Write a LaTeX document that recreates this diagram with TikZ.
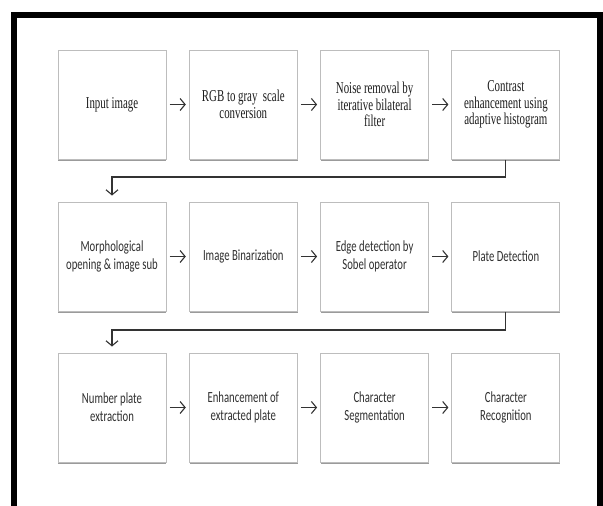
\documentclass[tikz,border=0pt]{standalone}
\usepackage{fontspec}
\newfontfamily\serifA[FakeStretch=0.655]{Liberation Serif}
\newfontfamily\sansA[FakeStretch=0.69]{Carlito}
\usetikzlibrary{arrows.meta,shadows}
\definecolor{boxline}{HTML}{BDBDBD}
\definecolor{txta}{HTML}{1C1C1C}
\definecolor{txtb}{HTML}{303030}
\definecolor{arr}{HTML}{333333}
\tikzset{
  stepbox/.style={draw=boxline, line width=1pt, fill=white,
    minimum width=108pt, minimum height=109pt, align=center,
    inner sep=2pt,
    drop shadow={shadow xshift=0.3pt, shadow yshift=-2.4pt, fill=black!60, opacity=0.65}},
  rowa/.style={stepbox, text=txta, font=\serifA\fontsize{16.6}{16.7}\selectfont},
  rowb/.style={stepbox, text=txtb, font=\sansA\fontsize{15.5}{18.3}\selectfont},
  flow/.style={draw=arr, line width=1.1pt, -{Straight Barb[length=5pt,width=12pt,line width=1.1pt]}},
}
\begin{document}
\begin{tikzpicture}[x=1pt,y=-1pt]
\useasboundingbox (0,0) rectangle (603,506);
\fill[white] (0,0) rectangle (603,506);
% outer frame
\draw[line width=6pt, line join=miter] (14,506) -- (14,15) -- (600,15) -- (600,506);
% row 1
\node[rowa] (a1) at (112,104.5) {Input image};
\node[rowa] (a2) at (243.3,104.5) {RGB to gray\ \ scale\\conversion};
\node[rowa] (a3) at (374.6,104.5) {Noise removal by\\iterative bilateral\\filter};
\node[rowa] (a4) at (505.9,104.5) {Contrast\\enhancement using\\adaptive histogram};
% row 2
\node[rowb] (b1) at (112,256.5) {Morphological\\opening \& image sub};
\node[rowb] (b2) at (243.3,256.5) {Image Binarization};
\node[rowb] (b3) at (374.6,256.5) {Edge detection by\\Sobel operator};
\node[rowb] (b4) at (505.9,256.5) {Plate Detection};
% row 3
\node[rowb] (c1) at (112,407.5) {Number plate\\extraction};
\node[rowb] (c2) at (243.3,407.5) {Enhancement of\\extracted plate};
\node[rowb] (c3) at (374.6,407.5) {Character\\Segmentation};
\node[rowb] (c4) at (505.9,407.5) {Character\\Recognition};
% horizontal arrows
\foreach \r in {a,b,c}{
  \draw[flow, shorten <=3pt, shorten >=3pt] (\r1) -- (\r2);
  \draw[flow, shorten <=3pt, shorten >=3pt] (\r2) -- (\r3);
  \draw[flow, shorten <=3pt, shorten >=3pt] (\r3) -- (\r4);
}
% row connectors
\coordinate (k1) at (505.9,177);
\coordinate (k2) at (112,177);
\coordinate (k3) at (505.9,330);
\coordinate (k4) at (112,330);
\draw[flow, shorten >=6pt] (a4.south) -- (k1) -- (k2) -- (b1.north);
\draw[flow, shorten >=6pt] (b4.south) -- (k3) -- (k4) -- (c1.north);
\end{tikzpicture}
\end{document}
